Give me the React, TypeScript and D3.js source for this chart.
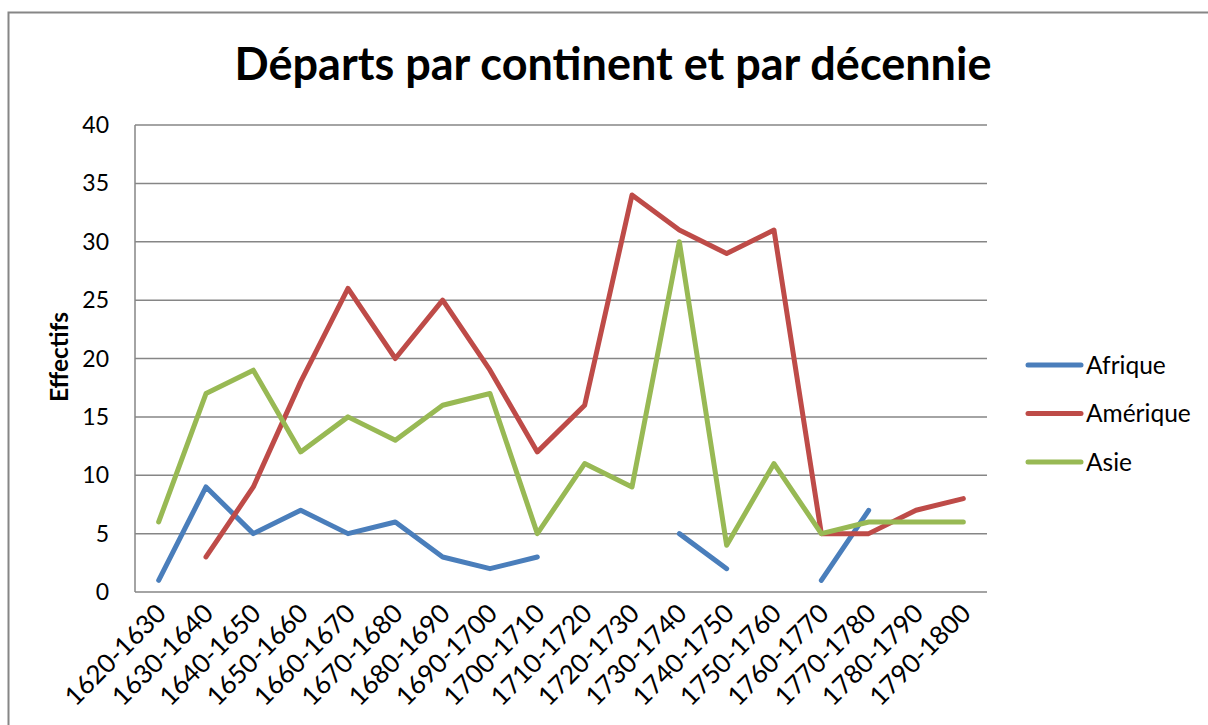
import React, { useEffect, useRef } from 'react';
import * as d3 from 'd3';

const categories = [
  '1620-1630', '1630-1640', '1640-1650', '1650-1660', '1660-1670', '1670-1680',
  '1680-1690', '1690-1700', '1700-1710', '1710-1720', '1720-1730', '1730-1740',
  '1740-1750', '1750-1760', '1760-1770', '1770-1780', '1780-1790', '1790-1800',
];

const afrique = [1, 9, 5, 7, 5, 6, 3, 2, 3, null, null, 5, 2, null, 1, 7, null, null];
const amerique = [null, 3, 9, 18, 26, 20, 25, 19, 12, 16, 34, 31, 29, 31, 5, 5, 7, 8];
const asie = [6, 17, 19, 12, 15, 13, 16, 17, 5, 11, 9, 30, 4, 11, 5, 6, 6, 6];

const yTicks = [0, 5, 10, 15, 20, 25, 30, 35, 40];

const seriesList = [
  { name: 'Afrique', values: afrique, color: '#4a7ebb' },
  { name: 'Amérique', values: amerique, color: '#be4b48' },
  { name: 'Asie', values: asie, color: '#98b954' },
];

const FONT = 'Lato, "Open Sans", sans-serif';

const App = () => {
  const ref = useRef<SVGSVGElement>(null);

  useEffect(() => {
    const svg = d3.select(ref.current);
    svg.selectAll('*').remove();

    const margin = { left: 135, right: 987, top: 125, bottom: 592 };

    const x = d3.scaleBand<string>()
      .domain(categories)
      .range([margin.left, margin.right]);

    const y = d3.scaleLinear()
      .domain([0, 40])
      .range([margin.bottom, margin.top]);

    // chart border
    svg.append('rect')
      .attr('x', 8.5).attr('y', 12.5)
      .attr('width', 1220).attr('height', 740)
      .attr('fill', 'white')
      .attr('stroke', '#868686')
      .attr('stroke-width', 2);

    // title
    svg.append('text')
      .attr('x', 613).attr('y', 80)
      .attr('text-anchor', 'middle')
      .attr('font-family', FONT)
      .attr('font-weight', 'bold')
      .attr('font-size', 45)
      .text('Départs par continent et par décennie');

    // gridlines
    svg.append('g')
      .selectAll('line')
      .data(yTicks)
      .enter().append('line')
      .attr('x1', margin.left).attr('x2', margin.right)
      .attr('y1', d => y(d)).attr('y2', d => y(d))
      .attr('stroke', '#868686')
      .attr('stroke-width', 1.5);

    // left axis line
    svg.append('line')
      .attr('x1', margin.left).attr('x2', margin.left)
      .attr('y1', margin.top).attr('y2', margin.bottom)
      .attr('stroke', '#868686')
      .attr('stroke-width', 1.5);

    // y tick labels
    svg.append('g')
      .selectAll('text')
      .data(yTicks)
      .enter().append('text')
      .attr('x', 109)
      .attr('y', d => y(d))
      .attr('dy', '0.35em')
      .attr('text-anchor', 'end')
      .attr('font-family', FONT)
      .attr('font-size', 23)
      .text(d => d);

    // y axis title
    svg.append('text')
      .attr('transform', 'translate(68,357) rotate(-90)')
      .attr('text-anchor', 'middle')
      .attr('font-family', FONT)
      .attr('font-weight', 'bold')
      .attr('font-size', 24.5)
      .text('Effectifs');

    // x labels
    svg.append('g')
      .selectAll('text')
      .data(categories)
      .enter().append('text')
      .attr('transform', d => `translate(${x(d)! + x.bandwidth() / 2 + 9},${615}) rotate(-45)`)
      .attr('text-anchor', 'end')
      .attr('font-family', FONT)
      .attr('font-size', 26)
      .text(d => d);

    const line = d3.line<number | null>()
      .defined(d => d != null)
      .x((d, i) => x(categories[i])! + x.bandwidth() / 2)
      .y(d => y(d as number));

    seriesList.forEach(s => {
      svg.append('path')
        .datum(s.values)
        .attr('fill', 'none')
        .attr('stroke', s.color)
        .attr('stroke-width', 5)
        .attr('stroke-linecap', 'round')
        .attr('stroke-linejoin', 'round')
        .attr('d', line);
    });

    // legend
    const legend = svg.append('g');
    seriesList.forEach((s, i) => {
      const ly = 365 + i * 48.5;
      legend.append('line')
        .attr('x1', 1028).attr('x2', 1081)
        .attr('y1', ly).attr('y2', ly)
        .attr('stroke', s.color)
        .attr('stroke-width', 5)
        .attr('stroke-linecap', 'round');
      legend.append('text')
        .attr('x', 1086).attr('y', ly)
        .attr('dy', '0.35em')
        .attr('font-family', FONT)
        .attr('font-size', 24.5)
        .text(s.name);
    });
  }, []);

  return (
    <svg
      ref={ref}
      width={1208}
      height={725}
      style={{ position: 'absolute', left: 0, top: 0, display: 'block' }}
    />
  );
};

export default App;
